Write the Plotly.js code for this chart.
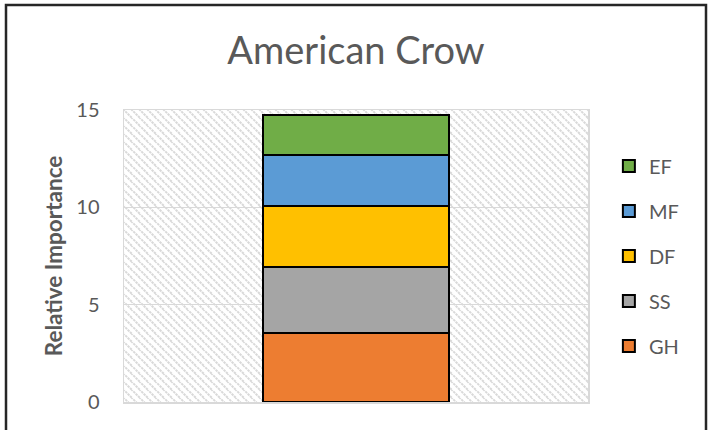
<!DOCTYPE html>
<html>
<head>
<meta charset="utf-8">
<script src="https://cdn.plot.ly/plotly-3.0.1.min.js"></script>
<style>
html,body{margin:0;padding:0;background:#fff;}
#chart{width:713px;height:430px;}
</style>
</head>
<body>
<div id="chart"></div>
<script>
var categories = ["American Crow"];
var seriesNames = ["GH", "SS", "DF", "MF", "EF"];
var GH = [3.54];
var SS = [3.40];
var DF = [3.14];
var MF = [2.62];
var EF = [2.05];
var yTicks = [0, 5, 10, 15];
var seriesValues = [GH, SS, DF, MF, EF];
var colors = ["#ED7D31", "#A5A5A5", "#FFC000", "#5B9BD5", "#70AD47"];

var traces = seriesNames.map(function (name, i) {
  return {
    type: "bar",
    name: name,
    x: categories,
    y: seriesValues[i],
    legendgroup: name,
    legendrank: seriesNames.length - i,
    marker: { color: colors[i], line: { color: "#000000", width: 2 } },
    hoverinfo: "name+y"
  };
});

var L = 124, R = 125, T = 110, B = 28;
var pw = 713 - L - R, ph = 430 - T - B;
var svg = '<svg xmlns="http://www.w3.org/2000/svg" width="' + pw + '" height="' + ph + '">' +
  '<defs><pattern id="h" width="8" height="8" patternUnits="userSpaceOnUse">' +
  '<path d="M-1,-1 L9,9 M-9,-1 L1,9 M7,-1 L17,9" stroke="#d9d9d9" stroke-width="2" stroke-dasharray="2.5,0.8"/>' +
  '</pattern></defs><rect width="100%" height="100%" fill="#ffffff"/><rect width="100%" height="100%" fill="url(#h)"/></svg>';
var src = "data:image/svg+xml;charset=utf-8," + encodeURIComponent(svg);

var layout = {
  width: 713,
  height: 430,
  margin: { l: L, r: R, t: T, b: B, pad: 0 },
  paper_bgcolor: "#ffffff",
  plot_bgcolor: "rgba(0,0,0,0)",
  barmode: "stack",
  bargap: 0.6,
  font: { family: "Lato, 'Open Sans', sans-serif", color: "#595959" },
  title: {
    text: "American Crow",
    font: { size: 38, color: "#595959", family: "Lato, sans-serif" },
    x: 0.5, xref: "paper", xanchor: "center",
    y: 1 - 51 / 430, yref: "container", yanchor: "middle"
  },
  xaxis: {
    showticklabels: false,
    showgrid: false,
    zeroline: false,
    showline: true,
    linecolor: "#d9d9d9",
    linewidth: 1.5,
    mirror: true,
    ticks: ""
  },
  yaxis: {
    range: [0, 15],
    tickvals: yTicks,
    ticktext: yTicks.map(String),
    tickfont: { size: 20, color: "#595959" },
    ticks: "outside",
    ticklen: 19,
    tickcolor: "rgba(0,0,0,0)",
    showgrid: true,
    gridcolor: "#d9d9d9",
    gridwidth: 1.5,
    zeroline: false,
    showline: true,
    linecolor: "#d9d9d9",
    linewidth: 1.5,
    mirror: true,
    title: {
      text: "<b>Relative Importance</b>",
      font: { size: 22.5, color: "#595959" },
      standoff: 7
    }
  },
  legend: {
    x: 1.045, xanchor: "left",
    y: 0.875, yanchor: "top",
    traceorder: "grouped",
    tracegroupgap: 16,
    font: { size: 20, color: "#595959" },
    bgcolor: "rgba(0,0,0,0)",
    itemclick: false
  },
  images: [{
    source: src,
    xref: "paper", yref: "paper",
    x: 0, y: 1, sizex: 1, sizey: 1,
    xanchor: "left", yanchor: "top",
    sizing: "stretch",
    layer: "below"
  }],
  shapes: [{
    type: "rect",
    xref: "paper", yref: "paper",
    x0: (6 - L) / pw, x1: (706 - L) / pw,
    y0: -0.3, y1: (430 - B - 5) / ph,
    line: { color: "#262626", width: 2.5 },
    fillcolor: "rgba(0,0,0,0)",
    layer: "above"
  }],
  showlegend: true
};

Plotly.newPlot("chart", traces, layout, { displayModeBar: false, staticPlot: true });
</script>
</body>
</html>
